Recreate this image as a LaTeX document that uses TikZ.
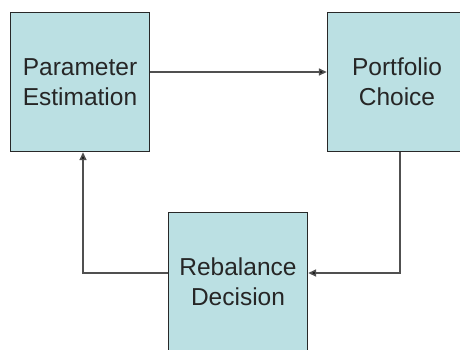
\documentclass[tikz,border=0pt]{standalone}
\usepackage{fontspec}
\setmainfont{Liberation Sans}
\usetikzlibrary{arrows.meta}
\definecolor{boxfill}{RGB}{187,224,227}
\definecolor{boxline}{RGB}{40,40,40}
\definecolor{connline}{RGB}{80,80,80}
\tikzset{
  stagebox/.style={draw=boxline, line width=1.4pt, fill=boxfill, minimum width=139pt, minimum height=139pt,
    align=center, font=\fontsize{24.5}{30}\selectfont, text=black!85, inner sep=0pt},
  conn/.style={draw=connline, line width=1.6pt, -{Triangle[length=8pt,width=7pt,fill=black]}}
}
\begin{document}
\begin{tikzpicture}[x=1pt,y=-1pt]
\useasboundingbox (0,0) rectangle (460,349);
\node[stagebox] (pe) at (80,82) {Parameter\\Estimation};
\node[stagebox] (pc) at (397,82) {Portfolio\\Choice};
\node[stagebox] (rd) at (238,282) {Rebalance\\Decision};
\draw[conn] ([yshift=10pt]pe.east) -- ([yshift=10pt]pc.west);
\draw[conn] ([xshift=3pt]pc.south) |- ([yshift=9pt]rd.east);
\draw[conn] ([yshift=9pt]rd.west) -| ([xshift=3pt]pe.south);
\end{tikzpicture}
\end{document}
